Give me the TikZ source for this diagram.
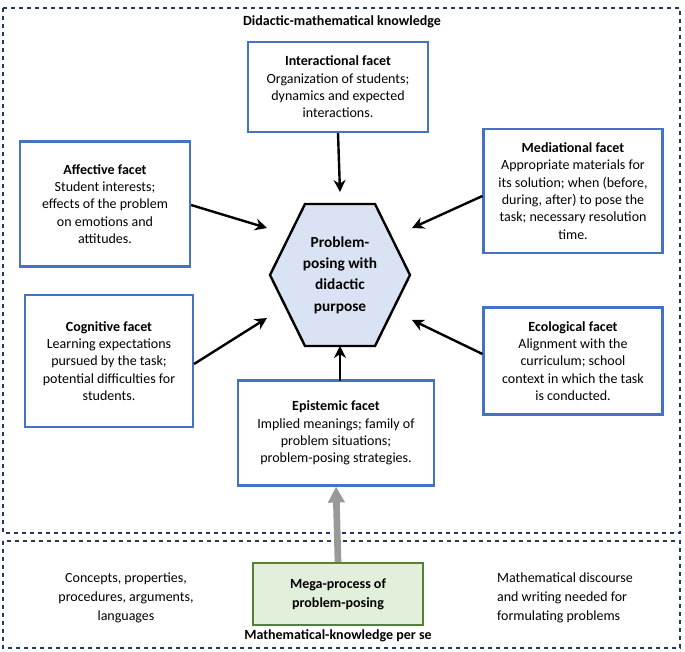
\documentclass[tikz,border=0pt]{standalone}
\usepackage{fontspec}
\setmainfont{Carlito}
\usetikzlibrary{arrows.meta}
\definecolor{bb}{RGB}{68,114,196}
\definecolor{hexf}{RGB}{218,227,243}
\definecolor{gf}{RGB}{226,239,218}
\definecolor{gb}{RGB}{84,130,53}
\definecolor{nv}{RGB}{31,56,100}
\begin{document}
\begin{tikzpicture}[x=0.75pt,y=-0.75pt,
 box/.style={draw=bb,line width=1.6pt,fill=white,align=center,font=\fontsize{10.5}{13}\selectfont,inner sep=3pt},
 arr/.style={-{Stealth[length=9pt,width=9pt]},line width=1.8pt},
 dbox/.style={draw=nv,dashed,line width=0.8pt}]
\useasboundingbox (0,0) rectangle (685,652);
\draw[dbox] (3,8) rectangle (680,533);
\draw[dbox] (3,541) rectangle (680,648);
\node[font=\bfseries\fontsize{10.5}{12}\selectfont] (t1) at (342,22) {Didactic-mathematical knowledge};
\node[box,minimum width=180*0.75pt,minimum height=90*0.75pt] (inter) at (338,87) {\textbf{Interactional facet}\\Organization of students;\\dynamics and expected\\interactions.};
\node[box,minimum width=179*0.75pt,minimum height=124*0.75pt] (med) at (573,191) {\textbf{Mediational facet}\\Appropriate materials for\\its solution; when (before,\\during, after) to pose the\\task; necessary resolution\\time.};
\node[box,minimum width=170*0.75pt,minimum height=125*0.75pt] (aff) at (105,204) {\textbf{Affective facet}\\Student interests;\\effects of the problem\\on emotions and\\attitudes.};
\node[box,minimum width=168*0.75pt,minimum height=132*0.75pt] (cog) at (109,361) {\textbf{Cognitive facet}\\Learning expectations\\pursued by the task;\\potential difficulties for\\students.};
\node[box,minimum width=179*0.75pt,minimum height=107*0.75pt] (eco) at (573,361) {\textbf{Ecological facet}\\Alignment with the\\curriculum; school\\context in which the task\\is conducted.};
\node[box,minimum width=196*0.75pt,minimum height=105*0.75pt] (epi) at (336,433) {\textbf{Epistemic facet}\\Implied meanings; family of\\problem situations;\\problem-posing strategies.};
\coordinate (hT) at (340,204); \coordinate (hB) at (340,346);
\coordinate (eT) at (340,381);
\draw[line width=1.8pt,fill=hexf] (305,204)--(375,204)--(410,275)--(375,346)--(305,346)--(270,275)--cycle;
\node[align=center,font=\bfseries\fontsize{11.5}{16}\selectfont] (hex) at (340,275) {Problem-\\posing with\\didactic\\purpose};
\draw[arr] (inter.south) -- (340,192);
\draw[arr] (aff.east|-0,205) -- (267,228);
\draw[arr] (med.west|-0,196) -- (412,228);
\draw[arr] (cog.east|-0,364) -- (267,318);
\draw[arr] (eco.west|-0,354) -- (412,320);
\draw[arr] (eT) -- (hB);
\node[draw=gb,line width=1.6pt,fill=gf,minimum width=170*0.75pt,minimum height=62*0.75pt,align=center,font=\bfseries\fontsize{10.5}{14}\selectfont] (mega) at (338,594) {Mega-process of\\problem-posing};
\draw[-{Triangle[length=12pt,width=12pt]},line width=5pt,draw=gray!80,color=gray!80] (mega.north) -- (epi.south);
\node[align=center,font=\fontsize{10.5}{14}\selectfont] (l) at (126,598) {Concepts, properties,\\procedures, arguments,\\languages};
\node[align=left,font=\fontsize{10.5}{14}\selectfont] (r) at (565,598) {Mathematical discourse\\and writing needed for\\formulating problems};
\node[font=\bfseries\fontsize{10.5}{12}\selectfont] (t2) at (338,636) {Mathematical-knowledge per se};
\end{tikzpicture}
\end{document}
